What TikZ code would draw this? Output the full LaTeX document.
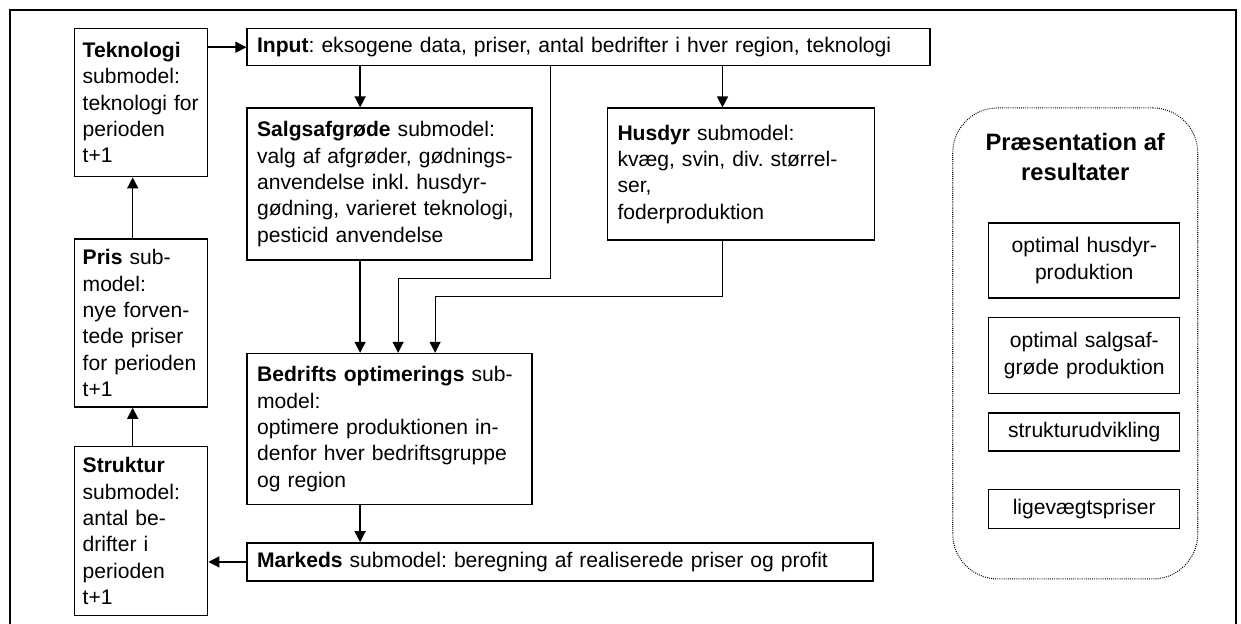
\documentclass[tikz,border=0pt]{standalone}
\usepackage{fontspec}
\setmainfont{Liberation Sans}
\frenchspacing
\usetikzlibrary{shapes,arrows.meta,positioning}

\begin{document}
\begin{tikzpicture}[
    block/.style={rectangle, draw, line width=0.8pt, inner xsep=0.2cm, inner ysep=0.1cm, align=left, font=\fontsize{12}{15}\selectfont},
    sideblock/.style={block, inner xsep=0.16cm, text width=2.34cm, minimum width=2.66cm},
    resblock/.style={block, align=center, text width=3.42cm, minimum width=3.82cm},
    arrow/.style={-{Triangle[length=0.22cm,width=0.22cm]}, thick},
    route/.style={-{Triangle[length=0.22cm,width=0.22cm]}, semithick},
    frame/.style={line width=1.2pt}
]
\path[use as bounding box, fill=white] (-1.48,0.56) rectangle (23.34,-11.92);

% venstre kolonne
\node[sideblock, minimum height=2.96cm, anchor=north west] (tek) at (0,0) {\textbf{Teknologi}\\submodel:\\teknologi for\\perioden\\t+1};
\node[sideblock, minimum height=3.36cm, below=1.22cm of tek.south west, anchor=north west] (pris) {\textbf{Pris} sub-\\model:\\nye forven-\\tede priser\\for perioden\\t+1};
\node[sideblock, minimum height=3.38cm, below=0.76cm of pris.south west, anchor=north west] (struktur) {\textbf{Struktur}\\submodel:\\antal be-\\drifter i\\perioden\\t+1};

% submodeller
\node[block, text width=13.26cm, minimum height=0.74cm, right=0.76cm of tek.north east, anchor=north west] (input) {\textbf{Input}: eksogene data, priser, antal bedrifter i hver region, teknologi};
\node[block, text width=5.3cm, minimum height=3.04cm, below=0.82cm of input.south west, anchor=north west] (salgs) {\textbf{Salgsafgrøde} submodel:\\valg af afgrøder, gødnings-\\anvendelse inkl. husdyr-\\gødning, varieret teknologi,\\pesticid anvendelse};
\node[block, text width=4.94cm, minimum height=2.64cm, right=1.48cm of salgs.north east, anchor=north west] (husdyr) {\textbf{Husdyr} submodel:\\kvæg, svin, div. størrel-\\ser,\\foderproduktion};
\node[block, text width=5.3cm, minimum height=3.02cm, below=1.84cm of salgs.south west, anchor=north west] (bedrifts) {\textbf{Bedrifts optimerings} sub-\\model:\\optimere produktionen in-\\denfor hver bedriftsgruppe\\og region};
\node[block, text width=12.12cm, minimum height=0.76cm, below=0.74cm of bedrifts.south west, anchor=north west] (markeds) {\textbf{Markeds} submodel: beregning af realiserede priser og profit};
\coordinate[right=0.36cm of salgs.south east] (gap);

% resultater
\node[draw, line width=0.6pt, dash pattern=on 0.5pt off 0.7pt, rounded corners=0.9cm, minimum width=4.9cm, minimum height=9.42cm, right=1.54cm of husdyr.north east, anchor=north west] (pres) {};
\node[font=\fontsize{13.5}{17}\selectfont\bfseries, align=center, inner sep=0pt, below=0.52cm of pres.north] (prestitle) {Præsentation af\\resultater};
\node[resblock, minimum height=1.5cm, below=2.3cm of pres.north, xshift=0.18cm] (res1) {optimal husdyr-\\produktion};
\node[resblock, minimum height=1.52cm, below=0.36cm of res1] (res2) {optimal salgsaf-\\grøde produktion};
\node[resblock, minimum height=0.76cm, below=0.36cm of res2] (res3) {strukturudvikling};
\node[resblock, minimum height=0.78cm, below=0.74cm of res3] (res4) {ligevægtspriser};

% pile
\draw[arrow] (tek.east |- input.west) -- (input.west);
\draw[arrow] ([xshift=-0.59cm]salgs.north |- input.south) -- ([xshift=-0.59cm]salgs.north);
\draw[arrow] ([xshift=-0.37cm]husdyr.north |- input.south) -- ([xshift=-0.37cm]husdyr.north);
\draw[route] (gap |- input.south) -- ([yshift=-0.36cm]gap) -| ([xshift=0.17cm]bedrifts.north);
\draw[route] ([xshift=-0.37cm]husdyr.south) -- ++(0,-1.12) -| ([xshift=0.91cm]bedrifts.north);
\draw[arrow] ([xshift=-0.59cm]salgs.south) -- ([xshift=-0.59cm]bedrifts.north);
\draw[arrow] ([xshift=-0.59cm]bedrifts.south) -- ([xshift=-0.59cm]bedrifts.north |- markeds.north);
\draw[arrow] (markeds.west) -- (struktur.east |- markeds.west);
\draw[arrow] ([xshift=-0.17cm]struktur.north) -- ([xshift=-0.17cm]pris.south);
\draw[arrow] ([xshift=-0.17cm]pris.north) -- ([xshift=-0.17cm]tek.south);

% ramme
\draw[frame] (-1.28,-12.3) -- (-1.28,0.36) -- (23.24,0.36) -- (23.24,-12.3);
\end{tikzpicture}
\end{document}
